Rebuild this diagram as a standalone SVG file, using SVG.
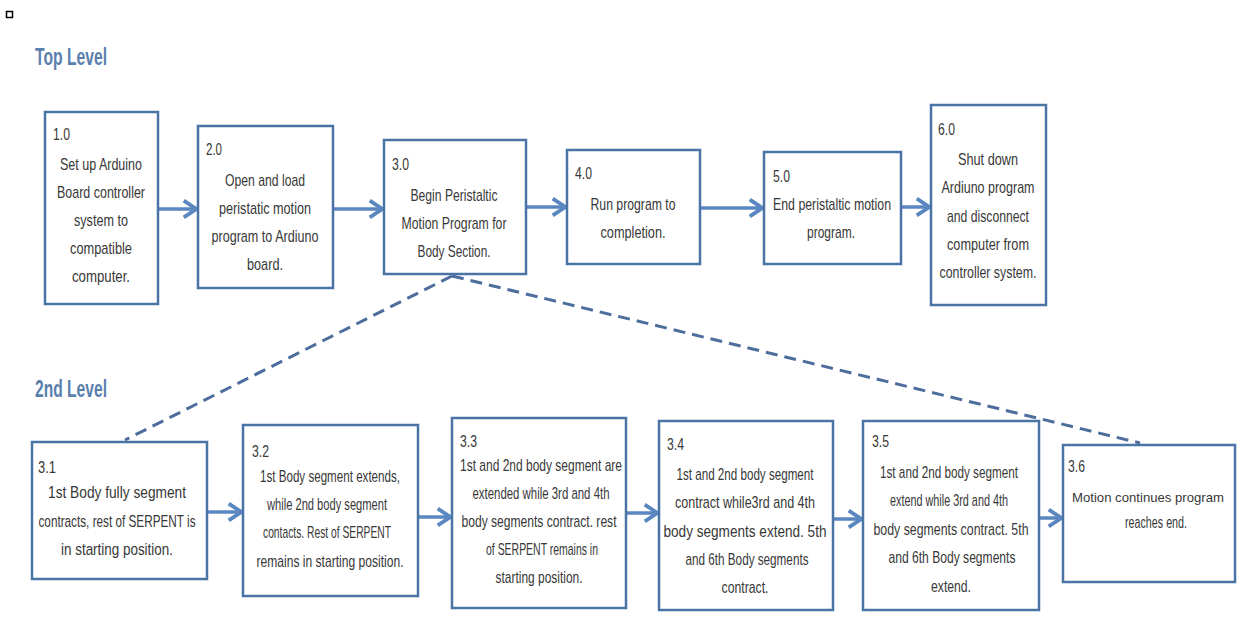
<svg xmlns="http://www.w3.org/2000/svg" width="1237" height="634" viewBox="0 0 1237 634">
<style>
.box{fill:#fff;stroke:#4a74a6;stroke-width:2.5}
.t{font-family:"Liberation Sans",Arial,sans-serif;font-size:17px;fill:#383838;text-anchor:middle}
.n{font-family:"Liberation Sans",Arial,sans-serif;font-size:17px;fill:#383838}
.s{font-size:13.5px}
.h{font-family:"Liberation Sans",Arial,sans-serif;font-size:24px;font-weight:bold;fill:#5a7fad}
.arr{stroke:#5b87c0;stroke-width:3.5;fill:none;marker-end:url(#ah)}
.dash{stroke:#4d6e9c;stroke-width:3;fill:none;stroke-dasharray:12 7}
</style>
<defs>
<marker id="ah" markerWidth="6" markerHeight="6" refX="4.5" refY="3" orient="auto" markerUnits="strokeWidth" viewBox="0 0 6 6">
<path d="M1,0.6 L4.6,3 L1,5.4" fill="none" stroke="#5b87c0" stroke-width="1.1"/>
</marker>
</defs>
<rect x="6.5" y="11.5" width="6" height="6" fill="none" stroke="#000" stroke-width="1.5"/>
<text class="h" x="35" y="65" textLength="72" lengthAdjust="spacingAndGlyphs">Top Level</text>
<text class="h" x="35" y="397" textLength="72" lengthAdjust="spacingAndGlyphs">2nd Level</text>

<g id="connectors">
<line class="arr" x1="158" y1="209" x2="196" y2="209"/>
<line class="arr" x1="333" y1="209" x2="382" y2="209"/>
<line class="arr" x1="526" y1="207" x2="565" y2="207"/>
<line class="arr" x1="700" y1="208" x2="762" y2="208"/>
<line class="arr" x1="901" y1="207" x2="929" y2="207"/>
<line class="arr" x1="207" y1="512" x2="241" y2="512"/>
<line class="arr" x1="418" y1="517" x2="450" y2="517"/>
<line class="arr" x1="626" y1="513" x2="657" y2="513"/>
<line class="arr" x1="833" y1="519" x2="861" y2="519"/>
<line class="arr" x1="1039" y1="518" x2="1061" y2="518"/>
<line class="dash" x1="452" y1="276" x2="125" y2="440"/>
<line class="dash" x1="452" y1="276" x2="1140" y2="443"/>
</g>

<g id="n1">
<rect class="box" x="45" y="112" width="113" height="192"/>
<text class="n" x="53" y="140" textLength="17" lengthAdjust="spacingAndGlyphs">1.0</text>
<text class="t" x="101" y="170" textLength="82" lengthAdjust="spacingAndGlyphs">Set up Arduino</text>
<text class="t" x="101" y="198" textLength="88" lengthAdjust="spacingAndGlyphs">Board controller</text>
<text class="t" x="101" y="226" textLength="54" lengthAdjust="spacingAndGlyphs">system to</text>
<text class="t" x="101" y="254" textLength="62" lengthAdjust="spacingAndGlyphs">compatible</text>
<text class="t" x="101" y="282" textLength="58" lengthAdjust="spacingAndGlyphs">computer.</text>
</g>
<g id="n2">
<rect class="box" x="198" y="126" width="135" height="162"/>
<text class="n" x="206" y="155" textLength="16" lengthAdjust="spacingAndGlyphs">2.0</text>
<text class="t" x="265" y="186" textLength="80" lengthAdjust="spacingAndGlyphs">Open and load</text>
<text class="t" x="265" y="214" textLength="92" lengthAdjust="spacingAndGlyphs">peristatic motion</text>
<text class="t" x="265" y="242" textLength="107" lengthAdjust="spacingAndGlyphs">program to Ardiuno</text>
<text class="t" x="265" y="270" textLength="36" lengthAdjust="spacingAndGlyphs">board.</text>
</g>
<g id="n3">
<rect class="box" x="384" y="140" width="142" height="134"/>
<text class="n" x="392" y="170" textLength="17" lengthAdjust="spacingAndGlyphs">3.0</text>
<text class="t" x="454" y="201" textLength="87" lengthAdjust="spacingAndGlyphs">Begin Peristaltic</text>
<text class="t" x="454" y="229" textLength="105" lengthAdjust="spacingAndGlyphs">Motion Program for</text>
<text class="t" x="454" y="257" textLength="73" lengthAdjust="spacingAndGlyphs">Body Section.</text>
</g>
<g id="n4">
<rect class="box" x="567" y="150" width="133" height="114"/>
<text class="n" x="575" y="179" textLength="17" lengthAdjust="spacingAndGlyphs">4.0</text>
<text class="t" x="633" y="210" textLength="85" lengthAdjust="spacingAndGlyphs">Run program to</text>
<text class="t" x="633" y="238" textLength="65" lengthAdjust="spacingAndGlyphs">completion.</text>
</g>
<g id="n5">
<rect class="box" x="764" y="152" width="137" height="112"/>
<text class="n" x="773" y="182" textLength="17" lengthAdjust="spacingAndGlyphs">5.0</text>
<text class="t" x="832" y="210" textLength="118" lengthAdjust="spacingAndGlyphs">End peristaltic motion</text>
<text class="t" x="831" y="238" textLength="48" lengthAdjust="spacingAndGlyphs">program.</text>
</g>
<g id="n6">
<rect class="box" x="931" y="105" width="115" height="200"/>
<text class="n" x="938" y="135" textLength="17" lengthAdjust="spacingAndGlyphs">6.0</text>
<text class="t" x="988" y="165" textLength="60" lengthAdjust="spacingAndGlyphs">Shut down</text>
<text class="t" x="988" y="193" textLength="93" lengthAdjust="spacingAndGlyphs">Ardiuno program</text>
<text class="t" x="988" y="222" textLength="82" lengthAdjust="spacingAndGlyphs">and disconnect</text>
<text class="t" x="988" y="250" textLength="82" lengthAdjust="spacingAndGlyphs">computer from</text>
<text class="t" x="988" y="278" textLength="97" lengthAdjust="spacingAndGlyphs">controller system.</text>
</g>

<g id="n31">
<rect class="box" x="32" y="442" width="175" height="137"/>
<text class="n" x="38" y="473" textLength="18" lengthAdjust="spacingAndGlyphs">3.1</text>
<text class="t" x="117" y="498" textLength="138" lengthAdjust="spacingAndGlyphs">1st Body fully segment</text>
<text class="t" x="117" y="527" textLength="157" lengthAdjust="spacingAndGlyphs">contracts, rest of SERPENT is</text>
<text class="t" x="117" y="555" textLength="112" lengthAdjust="spacingAndGlyphs">in starting position.</text>
</g>
<g id="n32">
<rect class="box" x="243" y="425" width="175" height="171"/>
<text class="n" x="252" y="457" textLength="17" lengthAdjust="spacingAndGlyphs">3.2</text>
<text class="t" x="330" y="482" textLength="140" lengthAdjust="spacingAndGlyphs">1st Body segment  extends,</text>
<text class="t" x="327" y="510" textLength="120" lengthAdjust="spacingAndGlyphs">while 2nd body segment</text>
<text class="t" x="327" y="538" textLength="128" lengthAdjust="spacingAndGlyphs">contacts. Rest of SERPENT</text>
<text class="t" x="330" y="567" textLength="147" lengthAdjust="spacingAndGlyphs">remains in starting position.</text>
</g>
<g id="n33">
<rect class="box" x="452" y="418" width="174" height="190"/>
<text class="n" x="460" y="447" textLength="17" lengthAdjust="spacingAndGlyphs">3.3</text>
<text class="t" x="541" y="471" textLength="162" lengthAdjust="spacingAndGlyphs">1st and 2nd body segment are</text>
<text class="t" x="541" y="499" textLength="137" lengthAdjust="spacingAndGlyphs">extended while 3rd and 4th</text>
<text class="t" x="539" y="527" textLength="155" lengthAdjust="spacingAndGlyphs">body segments contract. rest</text>
<text class="t" x="542" y="555" textLength="112" lengthAdjust="spacingAndGlyphs">of SERPENT remains in</text>
<text class="t" x="539" y="583" textLength="87" lengthAdjust="spacingAndGlyphs">starting position.</text>
</g>
<g id="n34">
<rect class="box" x="659" y="421" width="174" height="189"/>
<text class="n" x="667" y="450" textLength="17" lengthAdjust="spacingAndGlyphs">3.4</text>
<text class="t" x="745" y="480" textLength="137" lengthAdjust="spacingAndGlyphs">1st and 2nd body segment</text>
<text class="t" x="745" y="508" textLength="140" lengthAdjust="spacingAndGlyphs">contract while3rd and 4th</text>
<text class="t" x="745" y="537" textLength="163" lengthAdjust="spacingAndGlyphs">body segments  extend. 5th</text>
<text class="t" x="747" y="565" textLength="123" lengthAdjust="spacingAndGlyphs">and 6th Body segments</text>
<text class="t" x="745" y="593" textLength="47" lengthAdjust="spacingAndGlyphs">contract.</text>
</g>
<g id="n35">
<rect class="box" x="863" y="421" width="176" height="189"/>
<text class="n" x="872" y="447" textLength="17" lengthAdjust="spacingAndGlyphs">3.5</text>
<text class="t" x="949" y="478" textLength="138" lengthAdjust="spacingAndGlyphs">1st and 2nd body segment</text>
<text class="t" x="949" y="506" textLength="118" lengthAdjust="spacingAndGlyphs">extend while 3rd and 4th</text>
<text class="t" x="951" y="535" textLength="155" lengthAdjust="spacingAndGlyphs">body segments  contract. 5th</text>
<text class="t" x="952" y="563" textLength="127" lengthAdjust="spacingAndGlyphs">and 6th Body segments</text>
<text class="t" x="951" y="592" textLength="40" lengthAdjust="spacingAndGlyphs">extend.</text>
</g>
<g id="n36">
<rect class="box" x="1063" y="445" width="172" height="137"/>
<text class="n" x="1068" y="472" textLength="17" lengthAdjust="spacingAndGlyphs">3.6</text>
<text class="t s" x="1148" y="502" textLength="152" lengthAdjust="spacingAndGlyphs">Motion continues program</text>
<text class="t" x="1156" y="528" textLength="62" lengthAdjust="spacingAndGlyphs">reaches end.</text>
</g>
</svg>
